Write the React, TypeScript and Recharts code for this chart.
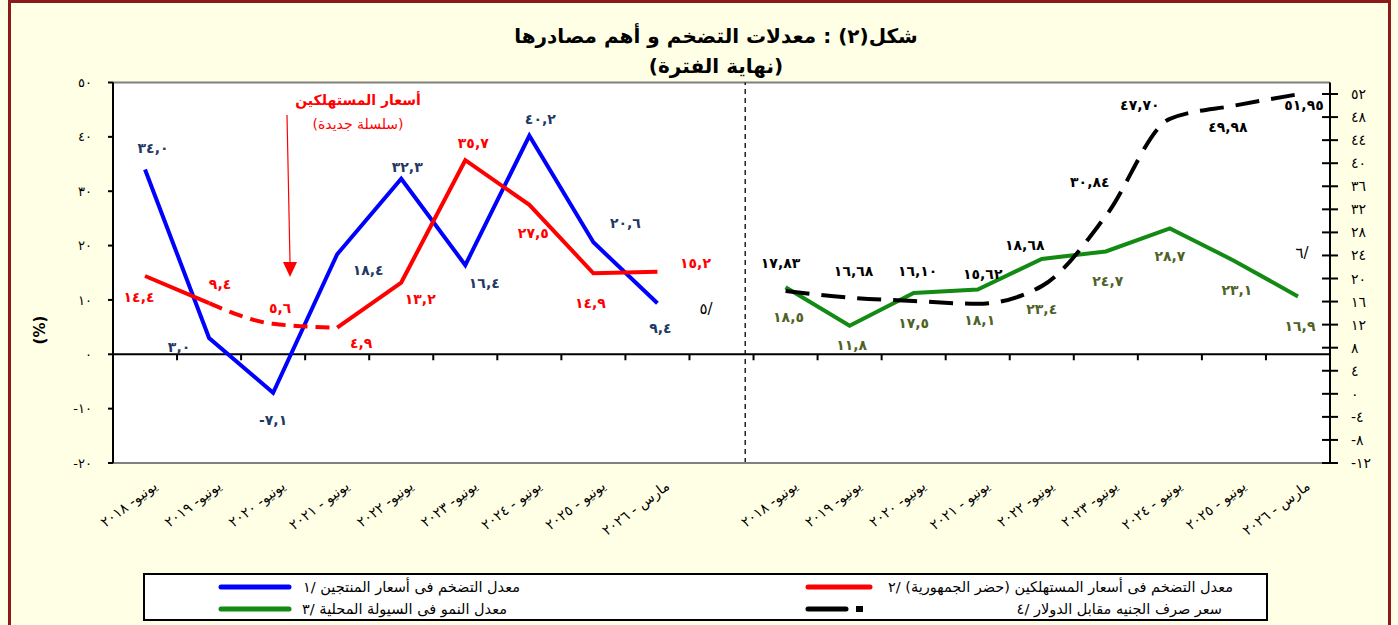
import React from "react"
import { LineChart, Line, XAxis, YAxis, ReferenceLine, LabelList } from "recharts"

const FONT = "'DejaVu Sans', sans-serif"

const CATEGORIES = [
  "يونيو- ٢٠١٨",
  "يونيو- ٢٠١٩",
  "يونيو- ٢٠٢٠",
  "يونيو - ٢٠٢١",
  "يونيو- ٢٠٢٢",
  "يونيو- ٢٠٢٣",
  "يونيو - ٢٠٢٤",
  "يونيو - ٢٠٢٥",
  "مارس - ٢٠٢٦",
]

// left panel (%)
const PRODUCER = [34.0, 3.0, -7.1, 18.4, 32.3, 16.4, 40.2, 20.6, 9.4]
const CONSUMER = [14.4, 9.4, 5.6, 4.9, 13.2, 35.7, 27.5, 14.9, 15.2]
// right panel
const LIQUIDITY = [18.5, 11.8, 17.5, 18.1, 23.4, 24.7, 28.7, 23.1, 16.9]
const EXCHANGE = [17.83, 16.68, 16.1, 15.62, 18.68, 30.84, 47.7, 49.98, 51.95]

const LEFT_TICKS = [-20, -10, 0, 10, 20, 30, 40, 50]
const RIGHT_TICKS = [-12, -8, -4, 0, 4, 8, 12, 16, 20, 24, 28, 32, 36, 40, 44, 48, 52]

// consumer prices: new series drawn dashed between these points
const DASH_FROM = 1
const DASH_TO = 3

// label offsets (px) from each point
const PRODUCER_LBL = [[8, -21], [-30, 9], [0, 27], [31, 16], [6, -12], [19, 18], [11, -17], [32, -19], [3, 25]]
const CONSUMER_LBL = [[-6, 21], [11, -19], [7, -16], [24, 15], [19, 16], [8, -17], [4, 28], [-3, 30], [38, -9]]
const LIQUIDITY_LBL = [[3, 30], [2, 19], [0, 30], [2, 31], [0, 50], [2, 30], [0, 28], [3, 29], [2, 30]]
const EXCHANGE_LBL = [[-5, -28], [4, -27], [4, -30], [5, -30], [-17, -41], [-16, -34], [-30, -14], [-6, 21], [6, 11]]

const DIGITS = "٠١٢٣٤٥٦٧٨٩"
const toAr = (v: number, dec: number) =>
  v.toFixed(dec).replace(".", ",").replace(/\d/g, (d) => DIGITS[Number(d)])

const leftRows = CATEGORIES.map((c, i) => ({
  x: i + 0.5,
  producer: PRODUCER[i],
  consumer: CONSUMER[i],
  consumerA: i <= DASH_FROM ? CONSUMER[i] : null,
  consumerDash: i >= DASH_FROM && i <= DASH_TO ? CONSUMER[i] : null,
  consumerB: i >= DASH_TO ? CONSUMER[i] : null,
}))
const rightRows = CATEGORIES.map((c, i) => ({
  x: 10.5 + i,
  liquidity: LIQUIDITY[i],
  exchange: EXCHANGE[i],
}))
const data = [...leftRows, ...rightRows]

const centers = data.map((d) => d.x)
const tickMarks = [1, 2, 3, 4, 5, 6, 7, 8, 9, 10, 11, 12, 13, 14, 15, 16, 17, 18]

function makeLabel(offsets: number[][], color: string, dec: number, start: number) {
  return (props: any) => {
    const { value, index } = props
    if (value == null) return null
    const off = offsets[index - start]
    if (!off) return null
    const x = props.x ?? props.viewBox?.x
    const y = props.y ?? props.viewBox?.y
    return (
      <text
        x={x + off[0]}
        y={y + off[1]}
        textAnchor="middle"
        dominantBaseline="central"
        fill={color}
        fontSize={14}
        letterSpacing={0.6}
        fontWeight="bold"
        fontFamily={FONT}
      >
        {toAr(value, dec)}
      </text>
    )
  }
}

function CatTick(props: any) {
  const { x, y, payload } = props
  const v = payload.value
  const i = v < 9.5 ? Math.floor(v) : Math.floor(v) - 10
  const ax = x + 13
  const ay = y + 25
  return (
    <text
      x={ax}
      y={ay}
      transform={`rotate(-37, ${ax}, ${ay})`}
      textAnchor="end"
      fontSize={14}
      fontFamily={FONT}
      fill="#000"
    >
      {CATEGORIES[i]}
    </text>
  )
}

function RightTick(props: any) {
  const { x, y, payload } = props
  return (
    <g>
      <line x1={x - 8} x2={x + 8} y1={y} y2={y} stroke="#000" strokeWidth={2} />
      <text x={x + 21} y={y} dominantBaseline="central" fontSize={14} fontFamily={FONT} fill="#000">
        {toAr(payload.value, 0)}
      </text>
    </g>
  )
}

const abs = (l: number, t: number): React.CSSProperties => ({ position: "absolute", left: l, top: t })
const centered = (l: number, t: number, extra: React.CSSProperties = {}): React.CSSProperties => ({
  position: "absolute",
  left: l,
  top: t,
  transform: "translate(-50%, -50%)",
  whiteSpace: "nowrap",
  direction: "rtl",
  fontFamily: FONT,
  ...extra,
})

function LegendItem({ right, top, text, note }: { right: number; top: number; text: string; note: string }) {
  return (
    <div
      dir="rtl"
      style={{
        position: "absolute",
        right: 1398 - right,
        top,
        whiteSpace: "nowrap",
        fontFamily: FONT,
        fontSize: 14.5,
        lineHeight: "16px",
        color: "#000",
      }}
    >
      {text} <span dir="ltr" style={{ unicodeBidi: "isolate" }}>{note}</span>
    </div>
  )
}

export default function App() {
  return (
    <div style={{ position: "absolute", left: 0, top: 0, width: 1398, height: 625, background: "#FFFFE6", overflow: "hidden" }}>
      <div
        style={{
          position: "absolute",
          left: 8,
          top: 0,
          width: 1383,
          height: 700,
          border: "3px solid #8B1A1A",
          boxSizing: "border-box",
        }}
      />
      {/* plot background */}
      <div style={{ ...abs(113, 82.5), width: 1217, height: 380.5, background: "#fff" }} />

      <div style={abs(0, 0)}>
        <LineChart width={1398} height={625} data={data} margin={{ top: 82.5, right: 8, bottom: 62, left: 63 }}>
          <XAxis
            type="number"
            dataKey="x"
            domain={[0, 19]}
            ticks={centers}
            interval={0}
            tick={<CatTick />}
            tickLine={false}
            tickSize={0}
            tickMargin={0}
            height={100}
            axisLine={{ stroke: "#808080", strokeWidth: 2 }}
          />
          <YAxis
            yAxisId="left"
            domain={[-20, 50]}
            ticks={LEFT_TICKS}
            interval={0}
            width={50}
            tickFormatter={(v: number) => toAr(v, 0)}
            tick={{ fontSize: 13, fill: "#000", fontFamily: FONT }}
            axisLine={{ stroke: "#000", strokeWidth: 2 }}
            tickLine={{ stroke: "#000", strokeWidth: 2 }}
            tickSize={5}
            tickMargin={16}
          />
          <YAxis
            yAxisId="right"
            orientation="right"
            domain={[-12, 54]}
            ticks={RIGHT_TICKS}
            interval={0}
            width={60}
            tick={<RightTick />}
            axisLine={{ stroke: "#000", strokeWidth: 2 }}
            tickLine={false}
            tickSize={0}
            tickMargin={0}
          />

          <ReferenceLine yAxisId="left" y={50} stroke="#808080" strokeWidth={2} />
          <ReferenceLine yAxisId="left" y={0} stroke="#000" strokeWidth={2} />
          <ReferenceLine yAxisId="left" x={9.87} stroke="#000" strokeWidth={1.3} strokeDasharray="5 4" />
          {tickMarks.map((k) => (
            <ReferenceLine
              key={k}
              yAxisId="left"
              segment={[{ x: k, y: 0 }, { x: k, y: -1.1 }]}
              stroke="#000"
              strokeWidth={2}
            />
          ))}

          <Line yAxisId="left" dataKey="producer" stroke="#0000FF" strokeWidth={4} dot={false} activeDot={false} isAnimationActive={false}>
            <LabelList dataKey="producer" content={makeLabel(PRODUCER_LBL, "#1F3864", 1, 0)} />
          </Line>
          <Line yAxisId="left" dataKey="consumerA" stroke="#FF0000" strokeWidth={4} dot={false} activeDot={false} isAnimationActive={false} />
          <Line yAxisId="left" type="monotone" dataKey="consumerDash" stroke="#FF0000" strokeWidth={4} strokeDasharray="14 8" dot={false} activeDot={false} isAnimationActive={false} />
          <Line yAxisId="left" dataKey="consumerB" stroke="#FF0000" strokeWidth={4} dot={false} activeDot={false} isAnimationActive={false} />
          <Line yAxisId="left" dataKey="consumer" stroke="none" dot={false} activeDot={false} isAnimationActive={false}>
            <LabelList dataKey="consumer" content={makeLabel(CONSUMER_LBL, "#FF0000", 1, 0)} />
          </Line>

          <Line yAxisId="right" dataKey="liquidity" stroke="#138A13" strokeWidth={4} dot={false} activeDot={false} isAnimationActive={false}>
            <LabelList dataKey="liquidity" content={makeLabel(LIQUIDITY_LBL, "#4F6228", 1, 9)} />
          </Line>
          <Line yAxisId="right" type="monotone" dataKey="exchange" stroke="#000" strokeWidth={4} strokeDasharray="24 12" dot={false} activeDot={false} isAnimationActive={false}>
            <LabelList dataKey="exchange" content={makeLabel(EXCHANGE_LBL, "#000", 2, 9)} />
          </Line>
        </LineChart>
      </div>

      {/* title */}
      <div style={centered(716, 36, { fontSize: 20, fontWeight: "bold" })}>شكل(٢) : معدلات التضخم و أهم مصادرها</div>
      <div style={centered(716, 66, { fontSize: 20, fontWeight: "bold" })}>(نهاية الفترة)</div>

      {/* y axis title */}
      <div style={{ ...centered(40, 330, { fontSize: 15, fontWeight: "bold", direction: "ltr" }), transform: "translate(-50%, -50%) rotate(-90deg)" }}>(%)</div>

      {/* annotation */}
      <div style={centered(358, 100, { fontSize: 14, fontWeight: "bold", color: "#FF0000" })}>أسعار المستهلكين</div>
      <div style={centered(358, 124, { fontSize: 14, color: "#FF0000" })}>(سلسلة جديدة)</div>
      <svg width={1398} height={625} style={{ ...abs(0, 0), pointerEvents: "none" }}>
        <line x1={287} y1={115} x2={290} y2={262} stroke="#FF0000" strokeWidth={1.2} />
        <polygon points="283,262 297,262 290,277" fill="#FF0000" />
      </svg>
      <div style={centered(706, 309, { fontSize: 15, direction: "ltr" })}>٥/</div>
      <div style={centered(1302, 253, { fontSize: 15, direction: "ltr" })}>٦/</div>

      {/* legend */}
      <div style={{ ...abs(143, 573), width: 1125, height: 48, border: "2px solid #000", background: "#fff", boxSizing: "border-box" }} />
      <svg width={1398} height={625} style={{ ...abs(0, 0), pointerEvents: "none" }}>
        <line x1={221} x2={289} y1={587} y2={587} stroke="#0000FF" strokeWidth={5} strokeLinecap="round" />
        <line x1={808} x2={870} y1={587} y2={587} stroke="#FF0000" strokeWidth={5} strokeLinecap="round" />
        <line x1={221} x2={289} y1={609} y2={609} stroke="#138A13" strokeWidth={5} strokeLinecap="round" />
        <line x1={808} x2={846} y1={609} y2={609} stroke="#000" strokeWidth={5} strokeLinecap="round" />
        <rect x={856} y={606} width={7} height={6} fill="#000" />
      </svg>
      <LegendItem right={520} top={579} text="معدل التضخم فى أسعار المنتجين" note="١/" />
      <LegendItem right={1233} top={579} text="معدل التضخم فى أسعار المستهلكين (حضر الجمهورية)" note="٢/" />
      <LegendItem right={507} top={601} text="معدل النمو فى السيولة المحلية" note="٣/" />
      <LegendItem right={1222} top={601} text="سعر صرف الجنيه مقابل الدولار" note="٤/" />
    </div>
  )
}
